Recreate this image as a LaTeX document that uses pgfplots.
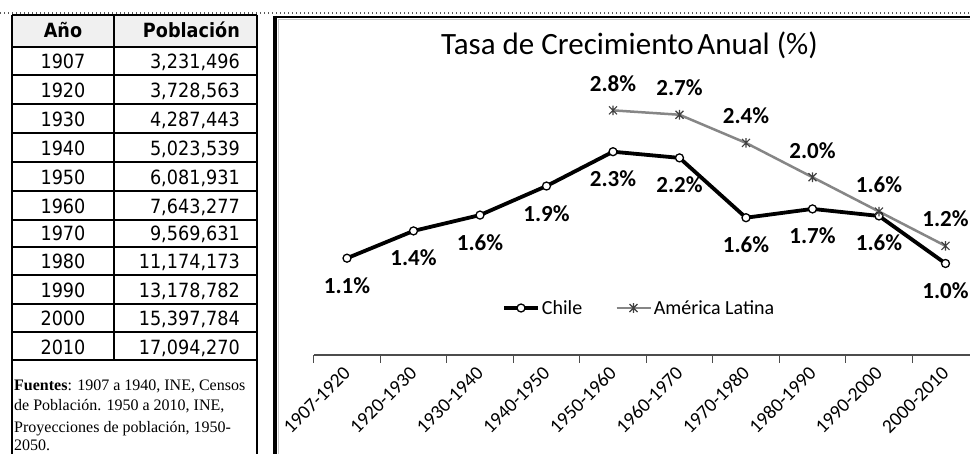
\documentclass[border=0pt]{standalone}
\usepackage{fontspec}
\usepackage{pgfplots}
\pgfplotsset{compat=1.18}
\setmainfont{Carlito}
\newfontfamily\tabfont[FakeStretch=0.9]{DejaVu Sans}
\newfontfamily\serfont{Liberation Serif}
\definecolor{algray}{RGB}{134,134,134}
\pgfdeclareplotmark{xstar}{%
  \pgfpathmoveto{\pgfqpoint{-\pgfplotmarksize}{-\pgfplotmarksize}}%
  \pgfpathlineto{\pgfqpoint{\pgfplotmarksize}{\pgfplotmarksize}}%
  \pgfpathmoveto{\pgfqpoint{-\pgfplotmarksize}{\pgfplotmarksize}}%
  \pgfpathlineto{\pgfqpoint{\pgfplotmarksize}{-\pgfplotmarksize}}%
  \pgfpathmoveto{\pgfqpoint{0pt}{-1.2\pgfplotmarksize}}%
  \pgfpathlineto{\pgfqpoint{0pt}{1.2\pgfplotmarksize}}%
  \pgfusepathqstroke}
\begin{document}
\begin{tikzpicture}[x=1pt,y=1pt]
\useasboundingbox (0,0) rectangle (970,453);
\clip (0,0) rectangle (970,453);
\fill[white] (0,0) rectangle (970,453);
% dotted top line
\draw[gray!70!black, line width=1.3pt, dash pattern=on 1.3pt off 2.7pt] (0,440) -- (970,440);
% ---------- table ----------
\fill[gray!12] (12,438) rectangle (257,406);
\foreach \yy in {438,406,378,349,320,291,262,233,206,178,149,121,93}
  \draw[black, line width=1.5pt] (12,\yy) -- (257,\yy);
\draw[black, line width=1.5pt] (12,438) -- (12,-5);
\draw[black, line width=1.5pt] (257,438) -- (257,-5);
\draw[black, line width=1.5pt] (114,438) -- (114,93);
\node[anchor=base, inner sep=0pt, font=\tabfont\bfseries\fontsize{19.6}{22}\selectfont] at (63,415) {Año};
\node[anchor=base east, inner sep=0pt, font=\tabfont\bfseries\fontsize{19.6}{22}\selectfont] at (240,415) {Población};
\foreach \yr/\pop/\bl in {1907/{3,231,496}/384, 1920/{3,728,563}/355, 1930/{4,287,443}/326, 1940/{5,023,539}/297, 1950/{6,081,931}/268, 1960/{7,643,277}/239, 1970/{9,569,631}/212, 1980/{11,174,173}/184, 1990/{13,178,782}/155, 2000/{15,397,784}/127, 2010/{17,094,270}/99}{
  \node[anchor=base, inner sep=0pt, font=\tabfont\fontsize{19.6}{22}\selectfont] at (63,\bl) {\yr};
  \node[anchor=base east, inner sep=0pt, font=\tabfont\fontsize{19.6}{22}\selectfont] at (240,\bl) {\pop};
}
\begin{scope}[every node/.style={anchor=base west, inner sep=0pt, font=\serfont\fontsize{16}{20}\selectfont}]
\node at (14,63) {\textbf{Fuentes}: 1907 a 1940, INE, Censos};
\node at (14,42) {de Población. 1950 a 2010, INE,};
\node at (14,21) {Proyecciones de población, 1950-};
\node at (14,3) {2050.};
\end{scope}
% ---------- chart frame ----------
\draw[black, line width=2pt] (273.5,436) -- (980,436);
\draw[black, line width=3.5pt] (275,437) -- (275,-5);
\draw[gray!45, line width=1pt] (278.5,433.5) -- (980,433.5);
\draw[gray!45, line width=1pt] (278.5,433.5) -- (278.5,-5);
% title
\node[anchor=base, inner sep=0pt, font=\fontsize{31}{36}\selectfont] at (629.5,398) {Tasa de Crecimiento\hspace{0.12em}Anual (\%)};
\begin{axis}[
  at={(313.75pt,98pt)}, anchor=south west,
  x=66.5pt, y=88pt,
  xmin=-0.5, xmax=9.5, ymin=0, ymax=3,
  clip=false,
  axis x line=bottom, axis y line=none,
  axis line style={-, gray!60!black, line width=1.5pt},
  xtick={0,...,9},
  xticklabels={1907-1920,1920-1930,1930-1940,1940-1950,1950-1960,1960-1970,1970-1980,1980-1990,1990-2000,2000-2010},
  major tick length=0pt,
  minor xtick={-0.5,0.5,...,9.5},
  minor tick length=8pt,
  tick align=outside,
  minor tick style={gray!60!black, line width=1.2pt},
  xticklabel style={font=\fontsize{19.5}{22}\selectfont, yshift=-15pt, rotate=45, anchor=east, inner sep=0pt},
  /pgf/number format/assume math mode=true,
  legend style={at={(0.283,0.178)}, anchor=west, draw=none, fill=none, inner sep=0pt,
    font=\fontsize{20}{24}\selectfont, legend columns=2,
    /tikz/every even column/.append style={column sep=31pt}},
  legend image code/.code={\draw[mark repeat=2,mark phase=2,#1] plot coordinates {(0pt,0pt) (17pt,0pt) (34pt,0pt)};},
]
\addplot[black, line width=3.8pt, mark=*, mark size=4pt,
  mark options={fill=white, draw=black, line width=1.3pt},
  nodes near coords={\pgfmathprintnumber[fixed,fixed zerofill,precision=1]{\pgfplotspointmeta}\%},
  every node near coord/.append style={anchor=base, yshift=-35pt, inner sep=0pt, text=black, font=\bfseries\fontsize{23}{26}\selectfont}]
  coordinates {(0,1.10) (1,1.41) (2,1.59) (3,1.92) (4,2.31) (5,2.24) (6,1.56) (7,1.66) (8,1.58) (9,1.04)};
\addlegendentry{Chile}
\addplot[algray, line width=2.5pt, mark=xstar, mark size=4pt,
  mark options={draw=black!75, line width=1.1pt},
  nodes near coords={\pgfmathprintnumber[fixed,fixed zerofill,precision=1]{\pgfplotspointmeta}\%},
  every node near coord/.append style={anchor=base, yshift=19pt, inner sep=0pt, text=black, font=\bfseries\fontsize{23}{26}\selectfont}]
  coordinates {(4,2.78) (5,2.73) (6,2.41) (7,2.02) (8,1.63) (9,1.24)};
\addlegendentry{América Latina}
\end{axis}
\end{tikzpicture}
\end{document}
